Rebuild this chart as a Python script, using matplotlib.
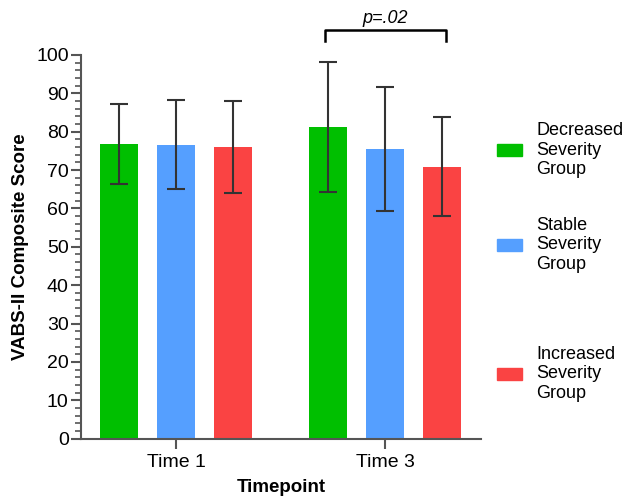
import matplotlib.pyplot as plt
from matplotlib.patches import Rectangle
from matplotlib.ticker import MultipleLocator

plt.rcParams['font.family'] = ['Liberation Sans', 'DejaVu Sans']

timepoints = ['Time 1', 'Time 3']
groups = ['Decreased\nSeverity\nGroup', 'Stable\nSeverity\nGroup', 'Increased\nSeverity\nGroup']
colors = ['#00BF00', '#559FFF', '#FA4343']

means = [
    [76.9, 81.2],   # decreased
    [76.6, 75.6],   # stable
    [75.9, 70.9],   # increased
]
err_hi = [
    [87.3, 98.2],
    [88.2, 91.7],
    [87.9, 83.9],
]
err_lo = [
    [66.4, 64.3],
    [65.1, 59.3],
    [64.0, 58.0],
]

fig = plt.figure(figsize=(6.29, 4.99), dpi=100)
ax = fig.add_axes([0.129, 0.121, 0.636, 0.769])

offset = 0.2727
width = 0.1818
for i in range(3):
    xs = [t + (i - 1) * offset for t in range(len(timepoints))]
    yerr = [[m - lo for m, lo in zip(means[i], err_lo[i])],
            [hi - m for m, hi in zip(means[i], err_hi[i])]]
    ax.bar(xs, means[i], width=width, color=colors[i], zorder=2)
    ax.errorbar(xs, means[i], yerr=yerr, fmt='none', ecolor='#333333',
                elinewidth=1.5, capsize=6.5, capthick=1.5, zorder=3)

ax.set_xlim(-0.4545, 1.459)
ax.set_ylim(0, 100)
ax.set_xticks(range(len(timepoints)))
ax.set_xticklabels(timepoints, fontsize=14)
ax.yaxis.set_major_locator(MultipleLocator(10))
ax.yaxis.set_minor_locator(MultipleLocator(2))
ax.tick_params(axis='y', labelsize=14, length=7, width=1.5, color='#555555', pad=2)
ax.tick_params(axis='y', which='minor', length=4, width=1.2, color='#555555')
ax.tick_params(axis='x', length=7, width=1.5, color='#555555', pad=4)
for s in ['top', 'right']:
    ax.spines[s].set_visible(False)
for s in ['left', 'bottom']:
    ax.spines[s].set_color('#555555')
    ax.spines[s].set_linewidth(1.5)

ax.set_xlabel('Timepoint', fontsize=13.5, fontweight='bold', labelpad=6)
ax.set_ylabel('VABS-II Composite Score', fontsize=13.5, fontweight='bold', labelpad=5)

# significance bracket between decreased and increased at Time 3
x0 = 1 - offset - 0.014
x1 = 1 + offset + 0.019
ax.plot([x0, x0, x1, x1], [103.7, 106.6, 106.6, 103.7], color='black',
        lw=1.8, clip_on=False)
ax.text(1, 108.3, 'p=.02', ha='center', va='baseline', fontsize=13, style='italic')

# legend
legend_y = [150, 245, 374]
for lab, col, yp in zip(groups, colors, legend_y):
    fy = 1 - yp / 499
    fig.patches.append(Rectangle((497 / 629, fy - 6 / 499), 25 / 629, 12 / 499,
                                 transform=fig.transFigure, color=col))
    fig.text(536 / 629, fy, lab, ha='left', va='center', fontsize=13,
             linespacing=1.22)

fig.savefig('out.png', dpi=100)
